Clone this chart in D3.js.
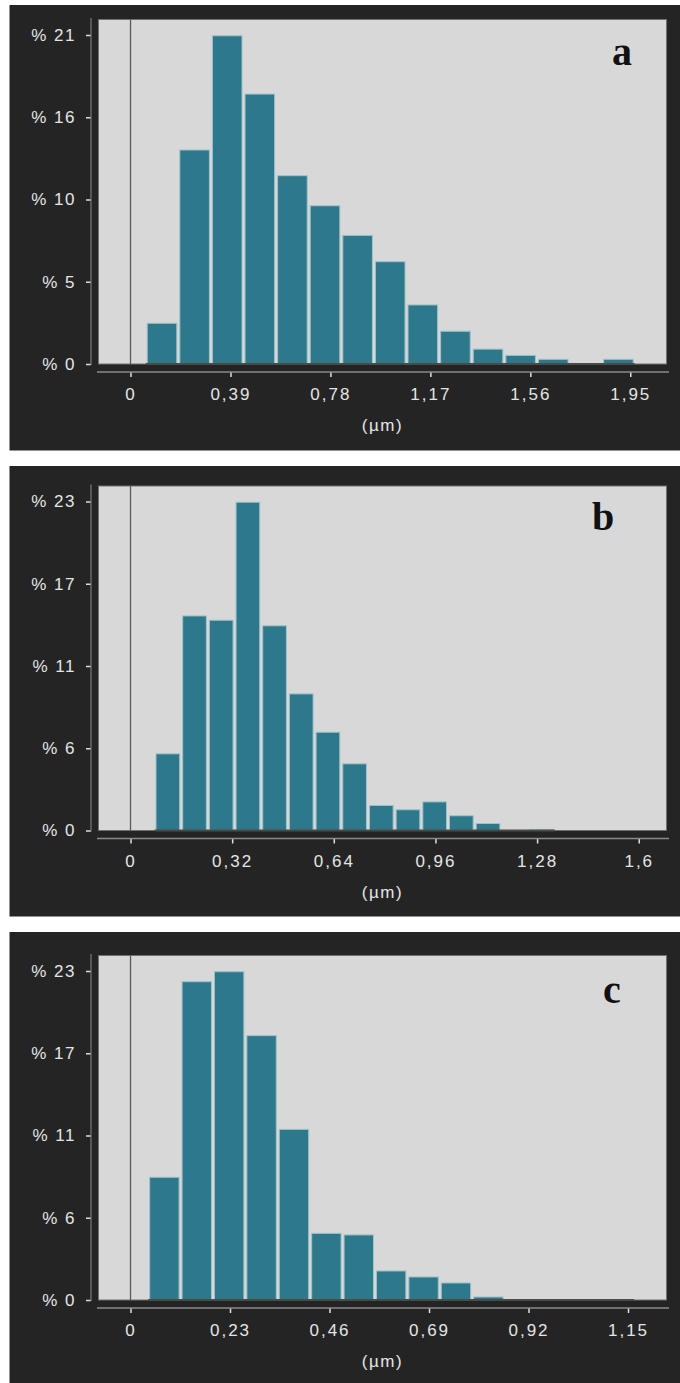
<!DOCTYPE html>
<html>
<head>
<meta charset="utf-8">
<script src="https://cdn.jsdelivr.net/npm/d3@7"></script>
<style>
  html, body { margin: 0; padding: 0; background: #fff; }
  svg { display: block; }
</style>
</head>
<body>
<div id="chart"></div>
<script>
// ---- data (% of particles per size bin) ----
const valuesA = [2.6, 13.66, 20.95, 17.23, 12.02, 10.1, 8.21, 6.53, 3.77, 2.09, 0.95, 0.55, 0.3, 0, 0.3];
const valuesB = [5.36, 15.0, 14.7, 22.95, 14.31, 9.55, 6.87, 4.66, 1.75, 1.45, 2.0, 1.03, 0.49, 0, 0.05];
const valuesC = [8.58, 22.25, 22.95, 18.48, 11.93, 4.66, 4.55, 2.03, 1.61, 1.19, 0.21, 0, 0, 0, 0];

// first bin edge and bin width, in µm
const binStart = [0.0593, 0.0755, 0.0408];
const binWidth = [0.1272, 0.084, 0.0749];

// x axis
const xTicksA = [0, 0.39, 0.78, 1.17, 1.56, 1.95];
const xTicksB = [0, 0.32, 0.64, 0.96, 1.28, 1.6];
const xTicksC = [0, 0.23, 0.46, 0.69, 0.92, 1.15];
const xLabelsA = ['0', '0,39', '0,78', '1,17', '1,56', '1,95'];
const xLabelsB = ['0', '0,32', '0,64', '0,96', '1,28', '1,6'];
const xLabelsC = ['0', '0,23', '0,46', '0,69', '0,92', '1,15'];
const xDomainA = [-0.1249, 2.0913];
const xDomainB = [-0.1008, 1.6874];
const xDomainC = [-0.074, 1.239];

// y axis: ticks sit at quarters of the top value, labels are rounded
const yMax = [21, 23, 23];
const yLabelsA = ['% 0', '% 5', '% 10', '% 16', '% 21'];
const yLabelsB = ['% 0', '% 6', '% 11', '% 17', '% 23'];
const yLabelsC = ['% 0', '% 6', '% 11', '% 17', '% 23'];

const panelNames = ['a', 'b', 'c'];
const unitLabel = '(µm)';

// ---- layout ----
const W = 680, H = 1383;
const panels = [
  { top: 5,   bottom: 450.5, plotTop: 19.5, letterX: 622, letterDy: 45.5,
    values: valuesA, xTicks: xTicksA, xLabels: xLabelsA, xDomain: xDomainA, yLabels: yLabelsA },
  { top: 466, bottom: 916.5, plotTop: 486,  letterX: 603, letterDy: 44,
    values: valuesB, xTicks: xTicksB, xLabels: xLabelsB, xDomain: xDomainB, yLabels: yLabelsB },
  { top: 932, bottom: 1383,  plotTop: 955.5, letterX: 612, letterDy: 47.5,
    values: valuesC, xTicks: xTicksC, xLabels: xLabelsC, xDomain: xDomainC, yLabels: yLabelsC },
];
const plotL = 98.5, plotR = 666.5, plotH = 344.5, tickTopFrac = 329 / 344.5;
const axisX = 91;
const fontTick = '"Liberation Sans", Arial, sans-serif';

const svg = d3.select('#chart').append('svg')
  .attr('width', W).attr('height', H)
  .attr('viewBox', `0 0 ${W} ${H}`);

panels.forEach((p, pi) => {
  const base = p.plotTop + plotH;
  const g = svg.append('g');

  // dark panel background
  g.append('rect')
    .attr('x', 9.5).attr('y', p.top)
    .attr('width', W - 9.5).attr('height', p.bottom - p.top)
    .attr('fill', '#242424');

  const x = d3.scaleLinear().domain(p.xDomain).range([plotL, plotR]);
  const y = d3.scaleLinear().domain([0, yMax[pi] / tickTopFrac]).range([base, p.plotTop]);

  // plot area
  g.append('rect')
    .attr('x', plotL).attr('y', p.plotTop)
    .attr('width', plotR - plotL).attr('height', plotH)
    .attr('fill', '#d8d8d8')
    .attr('stroke', '#707070').attr('stroke-width', 1);

  // zero line
  g.append('line')
    .attr('x1', x(0)).attr('x2', x(0))
    .attr('y1', p.plotTop).attr('y2', base)
    .attr('stroke', '#5a5a5a').attr('stroke-width', 1.3);

  // bars
  const bins = p.values.map((v, i) => ({
    x0: binStart[pi] + i * binWidth[pi],
    x1: binStart[pi] + (i + 1) * binWidth[pi],
    v
  }));

  g.selectAll('rect.bar')
    .data(bins.filter(d => d.v > 0))
    .join('rect')
    .attr('class', 'bar')
    .attr('x', d => x(d.x0) + 1.5)
    .attr('width', d => x(d.x1) - x(d.x0) - 3)
    .attr('y', d => y(d.v))
    .attr('height', d => base - y(d.v))
    .attr('fill', '#2d798b')
    .attr('stroke', '#9fc2cb').attr('stroke-width', 1);

  // dark base under the histogram span
  g.append('line')
    .attr('x1', x(bins[0].x0)).attr('x2', x(bins[bins.length - 1].x1))
    .attr('y1', base).attr('y2', base)
    .attr('stroke', '#4a4a4a').attr('stroke-width', 2);

  // y axis
  const yTickVals = d3.range(5).map(i => yMax[pi] * i / 4);
  const yAxis = g.append('g')
    .attr('transform', `translate(${axisX},0)`)
    .call(d3.axisLeft(y).tickValues(yTickVals)
      .tickFormat((d, i) => p.yLabels[i])
      .tickSize(5).tickPadding(10).tickSizeOuter(0));
  yAxis.select('.domain').remove();
  yAxis.append('line')
    .attr('x1', 0).attr('x2', 0)
    .attr('y1', p.plotTop - 1.5).attr('y2', base + 1)
    .attr('stroke', '#7a7a7a').attr('stroke-width', 1.2);
  yAxis.selectAll('.tick line').attr('stroke', '#dcdcdc').attr('stroke-width', 1.5);
  yAxis.selectAll('.tick text')
    .attr('fill', '#e4e4e4')
    .style('font-family', fontTick).style('font-size', '17px')
    .style('letter-spacing', '1.5px');

  // x axis
  const xAxisY = base + 8;
  const xAxis = g.append('g')
    .attr('transform', `translate(0,${xAxisY})`)
    .call(d3.axisBottom(x).tickValues(p.xTicks)
      .tickFormat((d, i) => p.xLabels[i])
      .tickSize(5).tickPadding(11).tickSizeOuter(0));
  xAxis.select('.domain').remove();
  xAxis.append('line')
    .attr('x1', plotL - 1.5).attr('x2', plotR + 2.5)
    .attr('y1', 0).attr('y2', 0)
    .attr('stroke', '#8a8a8a').attr('stroke-width', 1.5);
  xAxis.selectAll('.tick line').attr('stroke', '#e0e0e0').attr('stroke-width', 1.5);
  xAxis.selectAll('.tick text')
    .attr('fill', '#e4e4e4')
    .style('font-family', fontTick).style('font-size', '17px')
    .style('letter-spacing', '2px');

  // unit label
  g.append('text')
    .attr('x', (plotL + plotR) / 2).attr('y', base + 67)
    .attr('text-anchor', 'middle')
    .attr('fill', '#e4e4e4')
    .style('font-family', fontTick).style('font-size', '17px')
    .style('letter-spacing', '1.5px')
    .text(unitLabel);

  // panel letter
  g.append('text')
    .attr('x', p.letterX).attr('y', p.plotTop + p.letterDy)
    .attr('text-anchor', 'middle')
    .attr('fill', '#111')
    .style('font-family', '"Liberation Serif", "Times New Roman", serif')
    .style('font-weight', 'bold').style('font-size', '40px')
    .text(panelNames[pi]);
});
</script>
</body>
</html>
